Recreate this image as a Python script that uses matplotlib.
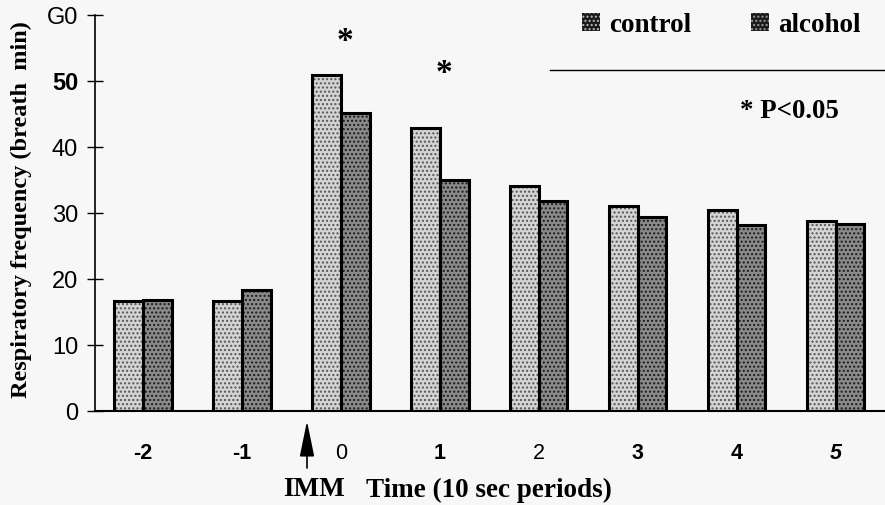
import numpy as np
import matplotlib
matplotlib.use("Agg")
import matplotlib.pyplot as plt
from matplotlib.patches import Patch

# %% data
periods = [-2, -1, 0, 1, 2, 3, 4, 5]
period_labels = ["-2", "-1", "0", "1", "2", "3", "4", "5"]
control = [16.7, 16.7, 50.9, 42.9, 34.1, 31.1, 30.5, 28.8]
alcohol = [16.9, 18.3, 45.2, 35.0, 31.8, 29.4, 28.2, 28.3]
ytick_vals = [0, 10, 20, 30, 40, 50, 60]
ytick_labels = ["0", "10", "20", "30", "40", "50", "G0"]
sig_periods = [0, 1]
sig_heights = [56.0, 51.2]

# %% plot
bg = "#f7f7f7"
fig = plt.figure(figsize=(8.85, 5.05), dpi=100, facecolor=bg)
ax = fig.add_axes([0.107, 0.186, 0.893, 0.784], facecolor=bg)

x = np.array(periods, dtype=float)
w = 0.29
# stippled fill, then black outline on top
ax.bar(x - w/2, control, w, color="#d4d4d4", hatch="....", edgecolor="#555555", linewidth=0)
ax.bar(x + w/2, alcohol, w, color="#8a8a8a", hatch="....", edgecolor="#1a1a1a", linewidth=0)
ax.bar(x - w/2, control, w, fill=False, edgecolor="black", linewidth=2.2)
ax.bar(x + w/2, alcohol, w, fill=False, edgecolor="black", linewidth=2.2)

ax.set_xlim(-2.49, 5.5)
ax.set_ylim(0, 60)

for s in ["top", "right"]:
    ax.spines[s].set_visible(False)
ax.spines["left"].set_linewidth(1.2)
ax.spines["bottom"].set_linewidth(1.5)

ax.set_yticks(ytick_vals)
ax.set_yticklabels(ytick_labels, fontfamily="Liberation Sans", fontsize=17)
ax.yaxis.get_ticklabels()[5].set_fontweight("bold")
ax.tick_params(axis="y", direction="inout", length=12, width=1, pad=6)

ax.set_xticks(x)
ax.set_xticklabels(period_labels, fontfamily="Liberation Sans", fontsize=15.5)
for i in [0, 1, 3, 5, 6, 7]:
    ax.xaxis.get_ticklabels()[i].set_fontweight("bold")
ax.xaxis.get_ticklabels()[7].set_fontstyle("italic")
ax.tick_params(axis="x", length=0, pad=23)

ax.set_ylabel("Respiratory frequency (breath  min)", fontfamily="Liberation Serif",
              fontweight="bold", fontsize=17.5)
ax.yaxis.set_label_coords(-0.079, 0.51)

# significance stars
for p, h in zip(sig_periods, sig_heights):
    ax.text(p + 0.04, h, "*", ha="center", va="center", fontsize=24,
            fontfamily="Liberation Serif", fontweight="bold")

# legend + separator + p note
handles = [Patch(facecolor="#1a1a1a", edgecolor="#bbbbbb", hatch="....", linewidth=0),
           Patch(facecolor="#1a1a1a", edgecolor="#999999", hatch="....", linewidth=0)]
ax.legend(handles, ["control", "alcohol"], ncol=2, frameon=False, loc="center left",
          bbox_to_anchor=(582/885, 1 - 25/505), bbox_transform=fig.transFigure,
          borderpad=0, borderaxespad=0, handlelength=0.67, handleheight=0.67,
          handletextpad=0.33, columnspacing=2.2,
          prop=dict(family="Liberation Serif", weight="bold", size=19.5))
ax.plot([0.576, 1.0], [0.861, 0.861], color="black", lw=1, transform=ax.transAxes,
        clip_on=False)
fig.text(789/885, 1 - 111/505, "* P<0.05", ha="center", va="center",
         fontfamily="Liberation Serif", fontweight="bold", fontsize=19.4)

# IMM arrow
ax.annotate("", xy=(307/885, 1 - 421/505), xytext=(307/885, 1 - 468/505),
            xycoords="figure fraction",
            arrowprops=dict(arrowstyle="-|>,head_width=0.45,head_length=2.2",
                            color="black", lw=1.2, shrinkA=0, shrinkB=0))
fig.text(314/885, 1 - 490/505, "IMM", ha="center", va="center",
         fontfamily="Liberation Serif", fontweight="bold", fontsize=19.5)
fig.text(489/885, 1 - 490/505, "Time (10 sec periods)", ha="center", va="center",
         fontfamily="Liberation Serif", fontweight="bold", fontsize=19.5)

fig.savefig("out.png", dpi=100, facecolor=bg)
